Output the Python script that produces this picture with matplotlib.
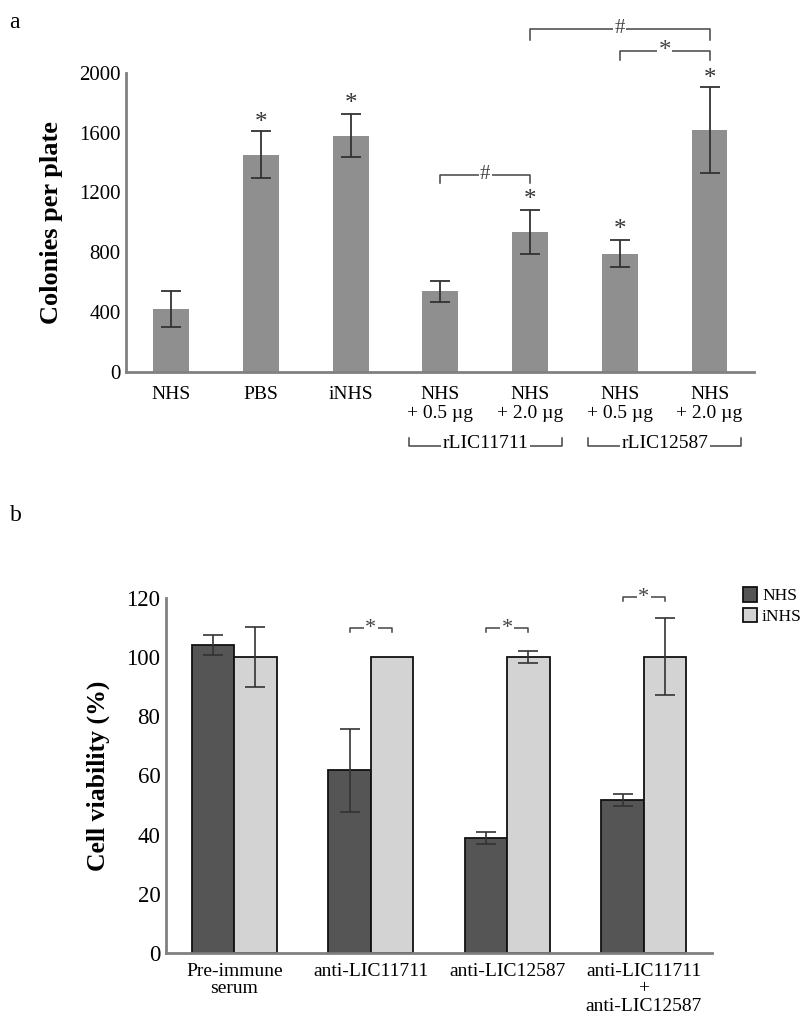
import matplotlib
matplotlib.use("Agg")
import matplotlib.pyplot as plt
import matplotlib.transforms as mtransforms
import numpy as np

plt.rcParams['font.family'] = ['Liberation Serif', 'DejaVu Serif']

# Panel a: colonies per plate
labels_a = ["NHS", "PBS", "iNHS", "NHS\n+ 0.5 µg", "NHS\n+ 2.0 µg", "NHS\n+ 0.5 µg", "NHS\n+ 2.0 µg"]
colonias = [421, 1453, 1581, 540, 937, 791, 1619]
erro_col = [120, 155, 142, 70, 148, 88, 287]
estrela_a = [None, 1664, 1789, None, 1148, 946, 1962]
grupos_a = ["rLIC11711", "rLIC12587"]

# Panel b: cell viability
labels_b = ["Pre-immune\nserum", "anti-LIC11711", "anti-LIC12587", "anti-LIC11711\n+\nanti-LIC12587"]
nhs = [104.1, 61.7, 38.9, 51.7]
nhs_err = [3.4, 14.0, 2.0, 2.0]
inhs = [100, 100, 100, 100]
inhs_err = [10.0, 0, 2.0, 13.0]
sig_b = [None, 109.7, 109.7, 120.2]

cinza_eixo = "#808080"
cor_linha = "#444444"

fig = plt.figure(figsize=(8, 10.27), dpi=100)

# ---------- painel a ----------
ax = fig.add_axes([0.158, 0.638, 0.785, 0.291])
x = np.arange(len(colonias))
ax.bar(x, colonias, width=0.4, color="#8f8f8f", zorder=2)
ax.errorbar(x, colonias, yerr=erro_col, fmt="none", ecolor="#333333",
            elinewidth=1.3, capsize=7, capthick=1.3, zorder=3)
for xi, ys in zip(x, estrela_a):
    if ys is not None:
        ax.text(xi, ys, "*", ha="center", va="center", fontsize=18, color="#333333")

ax.set_xlim(-0.5, 6.5)
ax.set_ylim(0, 2000)
ax.set_yticks(range(0, 2001, 400))
ax.set_xticks(x)
ax.set_xticklabels(labels_a, fontsize=14, linespacing=1.15)
ax.tick_params(axis="y", length=0, labelsize=15, pad=4)
ax.tick_params(axis="x", length=0, pad=10)
for s in ["top", "right"]:
    ax.spines[s].set_visible(False)
for s in ["left", "bottom"]:
    ax.spines[s].set_color(cinza_eixo)
    ax.spines[s].set_linewidth(2)
ax.set_ylabel("Colonies per plate", fontsize=19, fontweight="bold", labelpad=12)


def colchete(ax, x1, x2, y, h, simbolo, fs=14):
    ax.plot([x1, x1, x2, x2], [y - h, y, y, y - h], color=cor_linha, lw=1.1, clip_on=False)
    ax.text((x1 + x2) / 2, y, simbolo, ha="center", va="center", fontsize=fs, color=cor_linha,
            bbox=dict(facecolor="white", edgecolor="none", pad=1), clip_on=False)


colchete(ax, 4, 6, 2296, 76, "#", fs=15)
colchete(ax, 5, 6, 2146, 61, "*", fs=18)
colchete(ax, 3, 4, 1318, 58, "#", fs=15)

# group labels under the axis
tr = mtransforms.blended_transform_factory(ax.transData, fig.transFigure)
y_g = 1 - 446 / 1027
for centro, nome in zip([3.5, 5.5], grupos_a):
    ax.plot([centro - 0.85, centro - 0.85, centro + 0.85, centro + 0.85],
            [y_g + 0.008, y_g, y_g, y_g + 0.008], color=cor_linha, lw=1.1,
            transform=tr, clip_on=False)
    ax.text(centro, y_g + 0.002, nome, ha="center", va="center", fontsize=14, transform=tr,
            bbox=dict(facecolor="white", edgecolor="none", pad=1), clip_on=False)

# ---------- painel b ----------
bx = fig.add_axes([0.2075, 0.072, 0.6825, 0.346])
xb = np.arange(len(nhs))
w = 0.31
bx.bar(xb - w / 2, nhs, width=w, color="#555555", edgecolor="#111111", linewidth=1.3,
       label="NHS", zorder=2)
bx.bar(xb + w / 2, inhs, width=w, color="#d3d3d3", edgecolor="#111111", linewidth=1.3,
       label="iNHS", zorder=2)
bx.errorbar(xb - w / 2, nhs, yerr=nhs_err, fmt="none", ecolor="#333333",
            elinewidth=1.2, capsize=7, capthick=1.2, zorder=3)
tem_erro = np.array(inhs_err) > 0
bx.errorbar((xb + w / 2)[tem_erro], np.array(inhs)[tem_erro], yerr=np.array(inhs_err)[tem_erro],
            fmt="none", ecolor="#333333", elinewidth=1.2, capsize=7, capthick=1.2, zorder=3)
for xi, ys in zip(xb, sig_b):
    if ys is not None:
        colchete(bx, xi - w / 2, xi + w / 2, ys, 1.4, "*", fs=16)

bx.set_xlim(-0.5, 3.5)
bx.set_ylim(0, 120)
bx.set_yticks(range(0, 121, 20))
bx.set_xticks(xb)
bx.set_xticklabels(labels_b, fontsize=14, linespacing=1.05)
bx.tick_params(axis="y", length=0, labelsize=16.5, pad=4)
bx.tick_params(axis="x", length=0, pad=7)
for s in ["top", "right"]:
    bx.spines[s].set_visible(False)
for s in ["left", "bottom"]:
    bx.spines[s].set_color(cinza_eixo)
    bx.spines[s].set_linewidth(2)
bx.set_ylabel("Cell viability (%)", fontsize=18.5, fontweight="bold", labelpad=12)

leg = fig.legend(loc="upper left", bbox_to_anchor=(0.92, 0.435), frameon=False,
                 fontsize=12.5, handlelength=0.8, handleheight=0.9, handletextpad=0.3,
                 labelspacing=0.2, borderaxespad=0)

fig.text(0.012, 0.988, "a", fontsize=17, va="top", ha="left")
fig.text(0.012, 0.508, "b", fontsize=17, va="top", ha="left")

fig.savefig("out.png", dpi=100)
